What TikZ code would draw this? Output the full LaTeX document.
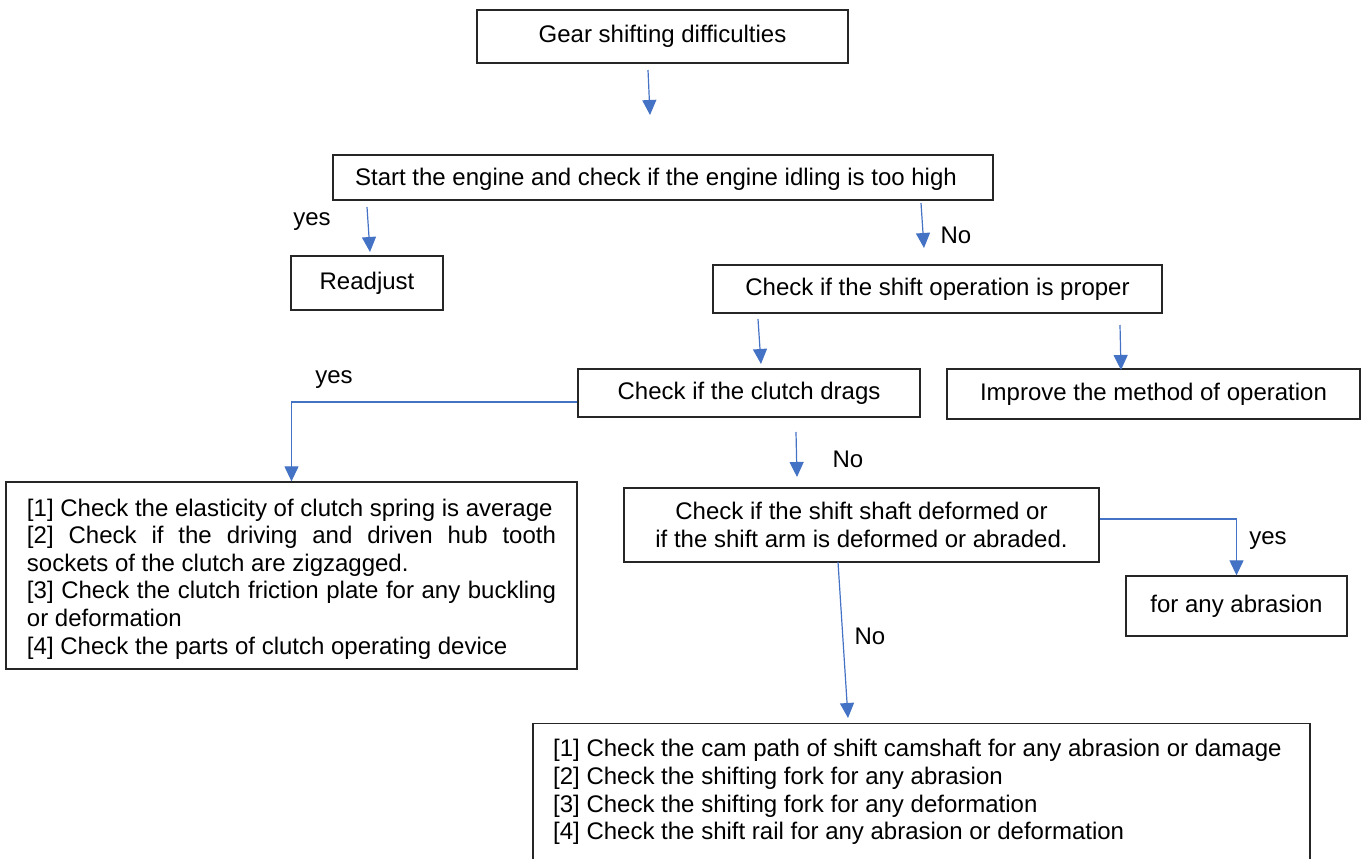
\documentclass[tikz,border=0pt]{standalone}
\usepackage{fontspec}
\setmainfont{Liberation Sans}
\usetikzlibrary{arrows.meta,calc}
\definecolor{arrblue}{HTML}{4472C4}
\newcommand{\myfs}{\fontsize{24}{27.6}\selectfont}
\newcommand{\jline}[1]{\makebox[529pt][s]{#1}}
\begin{document}
\begin{tikzpicture}[x=1pt,y=-1pt,
  box/.style={draw=black!85, line width=1.3pt, inner sep=0pt, font=\myfs, align=center},
  arr/.style={draw=arrblue, line width=1.2pt, -{Triangle[width=14pt,length=15pt]}},
  lbl/.style={font=\myfs, inner sep=0pt}]
\useasboundingbox (0,0) rectangle (1368,859);
\clip (0,0) rectangle (1368,859);

% boxes
\node[box, minimum width=371pt, minimum height=53pt] (b1) at (662.5,36.5) {Gear shifting difficulties};
\node[box, minimum width=660pt, minimum height=45pt] (b2) at (663,177.5) {\hspace*{-14pt}\rule{0pt}{21.5pt}Start the engine and check if the engine idling is too high};
\node[box, minimum width=152pt, minimum height=54pt] (b3) at (367,283) {Readjust};
\node[box, minimum width=449pt, minimum height=48pt] (b4) at (937.5,289) {Check if the shift operation is proper};
\node[box, minimum width=342pt, minimum height=48pt] (b5) at (749,393) {Check if the clutch drags};
\node[box, minimum width=413pt, minimum height=50pt] (b6) at (1153.5,394) {Improve the method of operation};
\node[box, inner xsep=21pt, minimum width=571pt, minimum height=187pt, align=left] (b7) at (291.5,575.5) {%
\makebox[529pt][l]{\rule{0pt}{24pt}[1] Check the elasticity of clutch spring is average}\\
\jline{[2] Check if the driving and driven hub tooth}\\
\makebox[529pt][l]{sockets of the clutch are zigzagged.}\\
\jline{[3] Check the clutch friction plate for any buckling}\\
\makebox[529pt][l]{or deformation}\\
\makebox[529pt][l]{[4] Check the parts of clutch operating device}};
\node[box, minimum width=475pt, minimum height=74pt] (b8) at (861.5,525) {Check if the shift shaft deformed or\\if the shift arm is deformed or abraded.};
\node[box, minimum width=221pt, minimum height=60pt] (b10) at (1236.5,606) {for any abrasion};
\node[box, minimum width=777pt, minimum height=160pt, anchor=north] (b9) at (921.5,723) {};
\node[lbl, anchor=west, align=left] (t9) at (553,792) {%
[1] Check the cam path of shift camshaft for any abrasion or damage\\
{[2]} Check the shifting fork for any abrasion\\
{[3]} Check the shifting fork for any deformation\\
{[4]} Check the shift rail for any abrasion or deformation};

% labels
\node[lbl] (l1) at (312,222) {yes};
\node[lbl] (l2) at (956,235) {No};
\node[lbl] (l3) at (334,380) {yes};
\node[lbl] (l4) at (848,459) {No};
\node[lbl] (l5) at (1268,541) {yes};
\node[lbl] (l6) at (870,636) {No};

% arrow end points
\coordinate (a1s) at (648,70);   \coordinate (a1e) at (650,115);
\coordinate (a2s) at (367,207);  \coordinate (a2e) at (370,252);
\coordinate (a3s) at (921,203);  \coordinate (a3e) at (924,248);
\coordinate (a4s) at (758,319);  \coordinate (a4e) at (761,364);
\coordinate (a5s) at (1120,325); \coordinate (a5e) at (1121,370);
\coordinate (a6s) at (796,432);  \coordinate (a6e) at (797,477);
\coordinate (a7s) at (838,562);  \coordinate (a7e) at (848,718);

\draw[arr] (a1s) -- (a1e);
\draw[arr] (a2s) -- (a2e);
\draw[arr] (a3s) -- (a3e);
\draw[arr] (a4s) -- (a4e);
\draw[arr] (a5s) -- (a5e);
\draw[arr] (a6s) -- (a6e);
\draw[arr] (a7s) -- (a7e);
\draw[arr] ([yshift=-9pt]b5.west) -| (b7.north);
\draw[arr] ([yshift=6pt]b8.east) -| (b10.north);
\end{tikzpicture}
\end{document}
